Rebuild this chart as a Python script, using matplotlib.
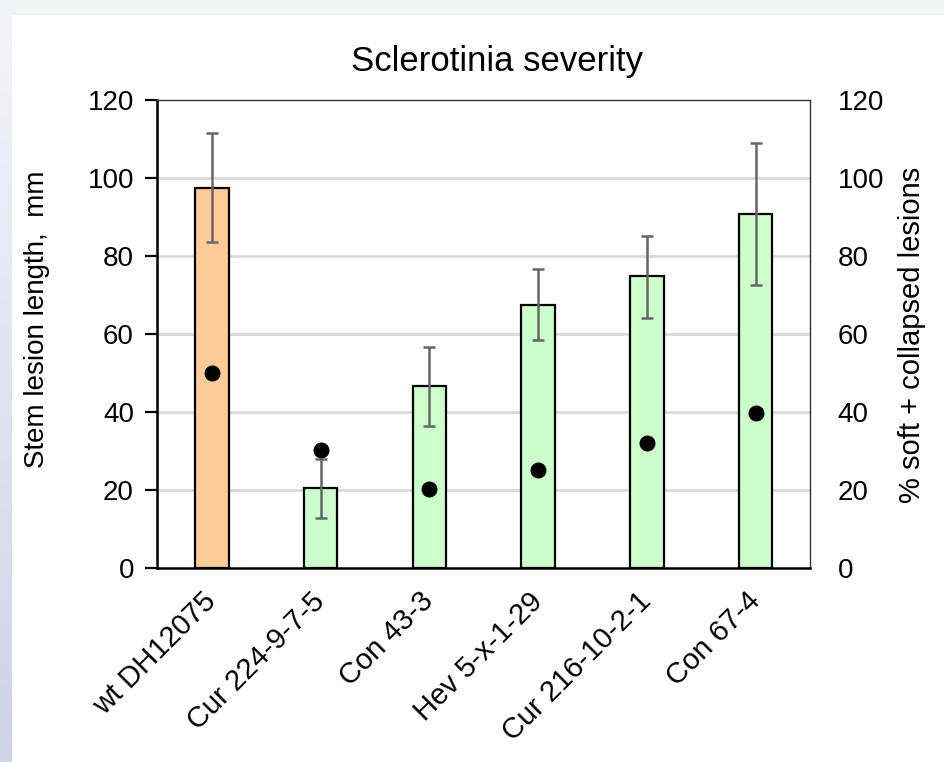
import numpy as np
import matplotlib
matplotlib.use("Agg")
import matplotlib.pyplot as plt

plt.rcParams['font.family'] = ['Liberation Sans', 'DejaVu Sans']

# data
lines = ['wt DH12075', 'Cur 224-9-7-5', 'Con 43-3', 'Hev 5-x-1-29', 'Cur 216-10-2-1', 'Con 67-4']
lesion_len = [97.4, 20.5, 46.6, 67.5, 74.8, 90.8]
err_up = [111.5, 27.9, 56.7, 76.7, 85.2, 108.9]
err_low = [83.6, 12.8, 36.4, 58.5, 64.2, 72.5]
pct_soft = [50.1, 30.3, 20.2, 25.1, 32.1, 39.7]
bar_colors = ['#ffcc99', '#ccffcc', '#ccffcc', '#ccffcc', '#ccffcc', '#ccffcc']

W, H = 945, 762
fig = plt.figure(figsize=(W / 100, H / 100), dpi=100)
fig.patch.set_facecolor('white')

# slide-like background strips (top band and left gradient)
top = fig.add_axes([0, 1 - 15 / H, 1, 15 / H])
top.set_axis_off()
top.add_patch(plt.Rectangle((0, 0), 1, 1, color='#f4f5f9', transform=top.transAxes))
left = fig.add_axes([0, 0, 12 / W, 1])
grad = np.linspace(0, 1, 256).reshape(-1, 1)
left.imshow(grad, aspect='auto', cmap=matplotlib.colors.LinearSegmentedColormap.from_list(
    'bg', ['#f4f5f9', '#ccd4e6']), extent=[0, 1, 0, 1])
left.set_axis_off()

ax = fig.add_axes([157.5 / W, 1 - 568 / H, (810 - 157.5) / W, 468 / H])
x = np.arange(len(lines))
lesion_len = np.array(lesion_len)
yerr = [lesion_len - np.array(err_low), np.array(err_up) - lesion_len]

for yv in [20, 40, 60, 80, 100]:
    ax.axhline(yv, color='#d9d9d9', lw=2, zorder=0)

ax.bar(x, lesion_len, width=0.31, color=bar_colors, edgecolor='black', linewidth=1.6, zorder=2)
ax.errorbar(x, lesion_len, yerr=yerr, fmt='none', ecolor='#666666', elinewidth=1.8,
            capsize=4.3, capthick=1.8, zorder=3)

ax.set_xlim(-0.5, len(lines) - 0.5)
ax.set_ylim(0, 120)
ax.set_yticks(range(0, 121, 20))
ax.tick_params(axis='y', direction='out', length=9, width=1.6, labelsize=20, pad=8)
ax.set_xticks(x)
ax.set_xticklabels(lines, rotation=45, ha='right', va='center', rotation_mode='anchor', fontsize=21)
ax.tick_params(axis='x', length=0, pad=21)

for s in ['left', 'bottom']:
    ax.spines[s].set_linewidth(1.8)
    ax.spines[s].set_color('black')
for s in ['top', 'right']:
    ax.spines[s].set_linewidth(1.0)
    ax.spines[s].set_color('#333333')

ax2 = ax.twinx()
ax2.set_ylim(0, 120)
ax2.set_yticks(range(0, 121, 20))
ax2.tick_params(axis='y', length=0, labelsize=20, pad=20)
ax2.plot(x, pct_soft, 'o', color='black', markersize=10.5, zorder=4)
for s in ax2.spines.values():
    s.set_visible(False)

fig.text(37 / W, 1 - 319 / H, 'Stem lesion length,  mm', fontsize=20, rotation=90,
         ha='center', va='center')
fig.text(912 / W, 1 - 335 / H, '% soft + collapsed lesions', fontsize=21, rotation=90,
         ha='center', va='center')
fig.text(497 / W, 1 - 62 / H, 'Sclerotinia severity', fontsize=25, ha='center', va='center')

fig.savefig('out.png', dpi=100)
